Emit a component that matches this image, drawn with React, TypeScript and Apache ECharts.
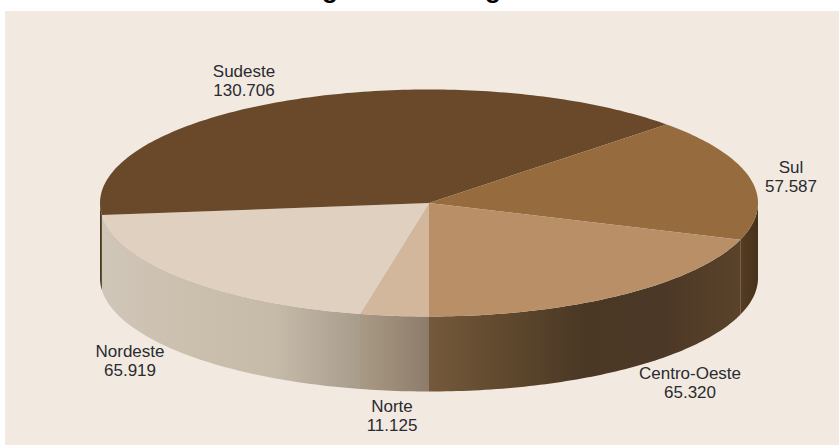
import React, { useEffect, useRef } from "react";
import * as echarts from "echarts";

const regions = ["Norte", "Nordeste", "Sudeste", "Sul", "Centro-Oeste"];
const values = [11125, 65919, 130706, 57587, 65320];
const valueLabels = ["11.125", "65.919", "130.706", "57.587", "65.320"];
const topColors = ["#d2b79c", "#dfd0bf", "#69492a", "#966b3e", "#b88f67"];
// Wall shading, listed from the left of each wall to its right.
const wallStops = [
  ["#a99a85", "#8d7c6a"],
  ["#d0c6b8", "#cbbfae", "#c6baa9", "#a89c8d"],
  ["#4e3a22", "#4e3a22"],
  ["#553d22", "#46311a"],
  ["#75593c", "#5f482d", "#4a3825", "#4c3826", "#5a432a"],
];
const labelAnchors = [
  [392, 416],
  [130, 361],
  [244, 81],
  [791, 177],
  [690, 383],
];
const titleFragments = [330, 493];

const CX = 429;
const CY = 203;
const RX = 329;
const RY = 113.5;
const DEPTH = 75;
const TOTAL = values.reduce((a, b) => a + b, 0);
const RAD = Math.PI / 180;

// Slices run clockwise from the bottom of the ellipse; angles are in screen space (y down).
function sliceRange(index: number) {
  const before = values.slice(0, index).reduce((a, b) => a + b, 0);
  const start = 90 + (before / TOTAL) * 360;
  return [start, start + (values[index] / TOTAL) * 360];
}

function rimPoints(from: number, to: number, dy: number) {
  const pts: number[][] = [];
  const steps = Math.max(2, Math.ceil(Math.abs(to - from)));
  for (let i = 0; i <= steps; i++) {
    const a = (from + ((to - from) * i) / steps) * RAD;
    pts.push([CX + RX * Math.cos(a), CY + RY * Math.sin(a) + dy]);
  }
  return pts;
}

function wallSpans(start: number, end: number) {
  // Only the front half of the rim is visible, plus the sliver at the far left.
  const spans: number[][] = [];
  for (const [lo, hi] of [[0, 180], [360, 540]]) {
    const a = Math.max(start, lo);
    const b = Math.min(end, hi);
    if (b > a) spans.push([a, b]);
  }
  return spans;
}

function renderSlice(params: any) {
  const i = params.dataIndex;
  const [start, end] = sliceRange(i);
  const children: any[] = [];
  for (const [a, b] of wallSpans(start, end)) {
    const top = rimPoints(a, b, 0);
    const bottom = rimPoints(b, a, DEPTH);
    const stops = wallStops[i];
    children.push({
      type: "polygon",
      shape: { points: [...top, ...bottom] },
      style: {
        fill: new echarts.graphic.LinearGradient(
          0,
          0,
          1,
          0,
          stops.map((color, k) => ({ offset: k / (stops.length - 1), color }))
        ),
      },
    });
  }
  return { type: "group", children };
}

function renderTop(params: any) {
  const i = params.dataIndex;
  const [start, end] = sliceRange(i);
  return {
    type: "polygon",
    shape: { points: [[CX, CY], ...rimPoints(start, end, 0)] },
    style: { fill: topColors[i] },
  };
}

export default function App() {
  const ref = useRef<HTMLDivElement>(null);

  useEffect(() => {
    const chart = echarts.init(ref.current!, undefined, { renderer: "svg" });
    const data = values.map((value, i) => ({ name: regions[i], value }));
    chart.setOption({
      animation: false,
      backgroundColor: "#ffffff",
      graphic: [
        {
          type: "rect",
          z: -10,
          shape: { x: 5, y: 11, width: 834, height: 434 },
          style: { fill: "#f2eae1" },
        },
        ...titleFragments.map((x) => ({
          type: "text",
          x,
          y: -24,
          style: {
            text: "g",
            font: "bold 26px 'Liberation Sans'",
            fill: "#000",
            textAlign: "center",
          },
        })),
        ...regions.map((name, i) => ({
          type: "text",
          x: labelAnchors[i][0],
          y: labelAnchors[i][1],
          z: 20,
          style: {
            text: `${name}\n${valueLabels[i]}`,
            font: "17px 'Liberation Sans'",
            lineHeight: 19,
            fill: "#2a2a30",
            textAlign: "center",
            textVerticalAlign: "middle",
          },
        })),
      ],
      series: [
        { type: "custom", coordinateSystem: "none", data, renderItem: renderSlice, z: 1 },
        { type: "custom", coordinateSystem: "none", data, renderItem: renderTop, z: 2 },
      ],
    });
    return () => chart.dispose();
  }, []);

  return (
    <div
      ref={ref}
      style={{ position: "fixed", left: 0, top: 0, width: 839, height: 445 }}
    />
  );
}
